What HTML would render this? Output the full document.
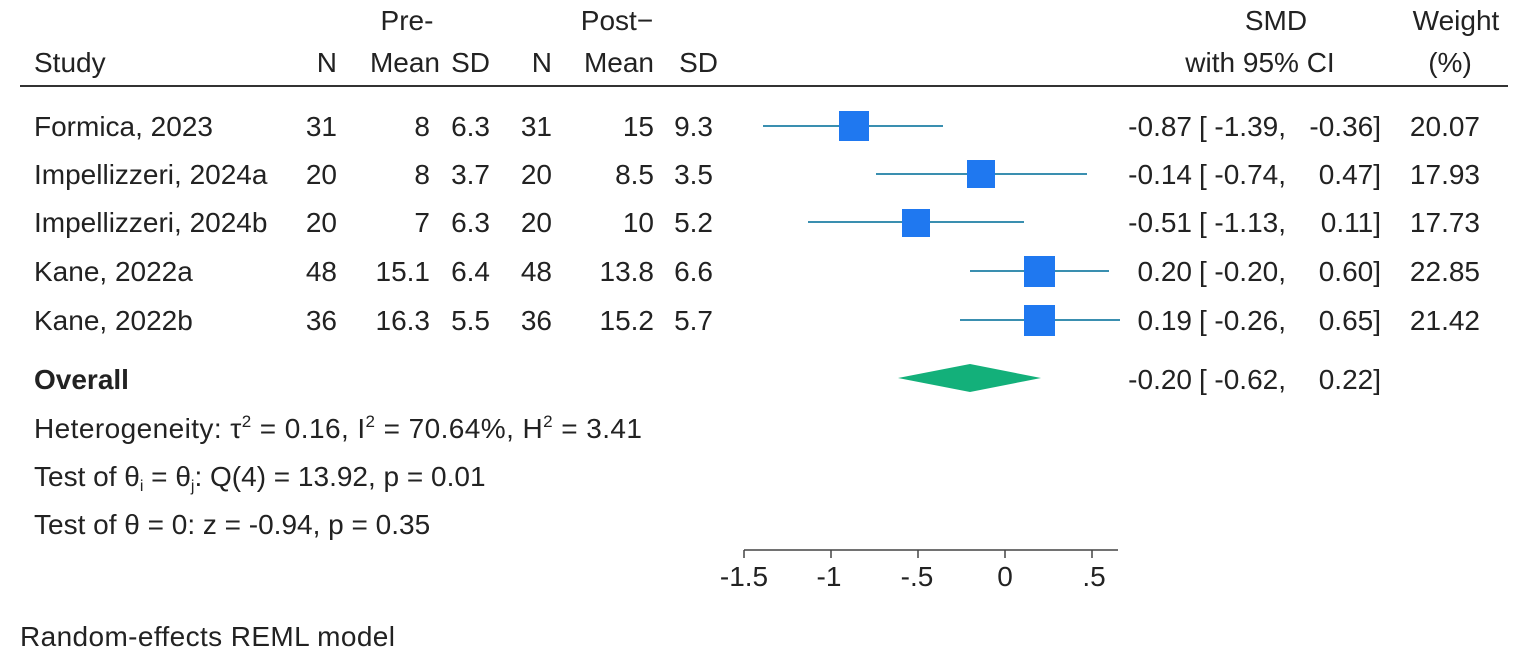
<!DOCTYPE html>
<html><head><meta charset="utf-8"><style>
html,body{margin:0;padding:0;background:#fff;}
svg{display:block;}
text{font-family:"Liberation Sans",Arial,sans-serif;font-size:28px;fill:#222;}
</style></head><body>
<svg width="1535" height="658" viewBox="0 0 1535 658" xmlns="http://www.w3.org/2000/svg">
<text x="407" y="30" text-anchor="middle">Pre-</text>
<text x="617" y="30" text-anchor="middle">Post−</text>
<text x="1276" y="30" text-anchor="middle">SMD</text>
<text x="1456" y="30" text-anchor="middle">Weight</text>
<text x="34" y="72">Study</text>
<text x="337" y="72" text-anchor="end">N</text>
<text x="440" y="72" text-anchor="end">Mean</text>
<text x="490" y="72" text-anchor="end">SD</text>
<text x="552" y="72" text-anchor="end">N</text>
<text x="654" y="72" text-anchor="end">Mean</text>
<text x="718" y="72" text-anchor="end">SD</text>
<text x="1260" y="72" text-anchor="middle">with 95% CI</text>
<text x="1450" y="72" text-anchor="middle">(%)</text>
<line x1="20" y1="86" x2="1508" y2="86" stroke="#333" stroke-width="2"/>

<g id="rows">
<text x="34" y="136">Formica, 2023</text>
<text x="337" y="136" text-anchor="end">31</text><text x="430" y="136" text-anchor="end">8</text><text x="490" y="136" text-anchor="end">6.3</text><text x="552" y="136" text-anchor="end">31</text><text x="654" y="136" text-anchor="end">15</text><text x="713" y="136" text-anchor="end">9.3</text>
<text x="34" y="184">Impellizzeri, 2024a</text>
<text x="337" y="184" text-anchor="end">20</text><text x="430" y="184" text-anchor="end">8</text><text x="490" y="184" text-anchor="end">3.7</text><text x="552" y="184" text-anchor="end">20</text><text x="654" y="184" text-anchor="end">8.5</text><text x="713" y="184" text-anchor="end">3.5</text>
<text x="34" y="232">Impellizzeri, 2024b</text>
<text x="337" y="232" text-anchor="end">20</text><text x="430" y="232" text-anchor="end">7</text><text x="490" y="232" text-anchor="end">6.3</text><text x="552" y="232" text-anchor="end">20</text><text x="654" y="232" text-anchor="end">10</text><text x="713" y="232" text-anchor="end">5.2</text>
<text x="34" y="281">Kane, 2022a</text>
<text x="337" y="281" text-anchor="end">48</text><text x="430" y="281" text-anchor="end">15.1</text><text x="490" y="281" text-anchor="end">6.4</text><text x="552" y="281" text-anchor="end">48</text><text x="654" y="281" text-anchor="end">13.8</text><text x="713" y="281" text-anchor="end">6.6</text>
<text x="34" y="330">Kane, 2022b</text>
<text x="337" y="330" text-anchor="end">36</text><text x="430" y="330" text-anchor="end">16.3</text><text x="490" y="330" text-anchor="end">5.5</text><text x="552" y="330" text-anchor="end">36</text><text x="654" y="330" text-anchor="end">15.2</text><text x="713" y="330" text-anchor="end">5.7</text>
<text x="34" y="389" style="font-weight:bold">Overall</text>
<text x="34" y="438" textLength="608" lengthAdjust="spacing">Heterogeneity: τ<tspan dy="-11" font-size="17">2</tspan><tspan dy="11"> = 0.16, I</tspan><tspan dy="-11" font-size="17">2</tspan><tspan dy="11"> = 70.64%, H</tspan><tspan dy="-11" font-size="17">2</tspan><tspan dy="11"> = 3.41</tspan></text>
<text x="34" y="486">Test of θ<tspan dy="5" font-size="16">i</tspan><tspan dy="-5"> = θ</tspan><tspan dy="5" font-size="16">j</tspan><tspan dy="-5">: Q(4) = 13.92, p = 0.01</tspan></text>
<text x="34" y="534">Test of θ = 0: z = -0.94, p = 0.35</text>
<text x="20" y="646" textLength="375" lengthAdjust="spacing">Random-effects REML model</text>
</g>

<g stroke="#3a8fb0" stroke-width="2">
<line x1="763" y1="126" x2="943" y2="126"/>
<line x1="876" y1="174" x2="1087" y2="174"/>
<line x1="808" y1="222" x2="1024" y2="222"/>
<line x1="970" y1="271" x2="1109" y2="271"/>
<line x1="960" y1="320" x2="1120" y2="320"/>
</g>
<g fill="#1f78f0">
<rect x="839" y="111" width="30" height="30"/>
<rect x="967" y="160" width="28" height="28"/>
<rect x="902" y="209" width="28" height="28"/>
<rect x="1024" y="256" width="31" height="31"/>
<rect x="1024" y="305" width="31" height="31"/>
</g>
<polygon points="898,378 970,364 1041,378 970,392" fill="#13b07a"/>

<g stroke="#444" stroke-width="1.5">
<line x1="744" y1="550" x2="1118" y2="550"/>
<line x1="744" y1="550" x2="744" y2="558"/>
<line x1="831" y1="550" x2="831" y2="558"/>
<line x1="918" y1="550" x2="918" y2="558"/>
<line x1="1005" y1="550" x2="1005" y2="558"/>
<line x1="1092" y1="550" x2="1092" y2="558"/>
</g>
<text x="744" y="586" text-anchor="middle">-1.5</text>
<text x="829" y="586" text-anchor="middle">-1</text>
<text x="917" y="586" text-anchor="middle">-.5</text>
<text x="1005" y="586" text-anchor="middle">0</text>
<text x="1094" y="586" text-anchor="middle">.5</text>

<g>
<text x="1192" y="136" text-anchor="end">-0.87</text><text x="1199" y="136">[</text><text x="1286" y="136" text-anchor="end">-1.39,</text><text x="1381" y="136" text-anchor="end">-0.36]</text><text x="1480" y="136" text-anchor="end">20.07</text>
<text x="1192" y="184" text-anchor="end">-0.14</text><text x="1199" y="184">[</text><text x="1286" y="184" text-anchor="end">-0.74,</text><text x="1381" y="184" text-anchor="end">0.47]</text><text x="1480" y="184" text-anchor="end">17.93</text>
<text x="1192" y="232" text-anchor="end">-0.51</text><text x="1199" y="232">[</text><text x="1286" y="232" text-anchor="end">-1.13,</text><text x="1381" y="232" text-anchor="end">0.11]</text><text x="1480" y="232" text-anchor="end">17.73</text>
<text x="1192" y="281" text-anchor="end">0.20</text><text x="1199" y="281">[</text><text x="1286" y="281" text-anchor="end">-0.20,</text><text x="1381" y="281" text-anchor="end">0.60]</text><text x="1480" y="281" text-anchor="end">22.85</text>
<text x="1192" y="330" text-anchor="end">0.19</text><text x="1199" y="330">[</text><text x="1286" y="330" text-anchor="end">-0.26,</text><text x="1381" y="330" text-anchor="end">0.65]</text><text x="1480" y="330" text-anchor="end">21.42</text>
<text x="1192" y="389" text-anchor="end">-0.20</text><text x="1199" y="389">[</text><text x="1286" y="389" text-anchor="end">-0.62,</text><text x="1381" y="389" text-anchor="end">0.22]</text>
</g>
</svg>
</body></html>
